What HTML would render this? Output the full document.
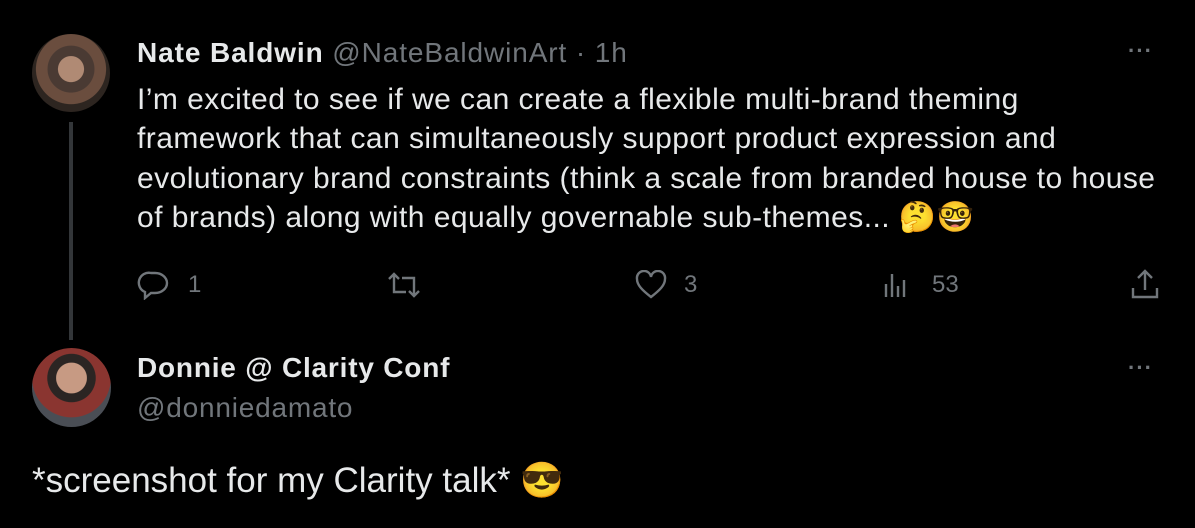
<!DOCTYPE html>
<html><head><meta charset="utf-8"><style>
body{margin:0;width:1195px;height:528px;background:#000;overflow:hidden;font-family:"Liberation Sans",sans-serif;color:#e7e9ea;position:relative}
.a{position:absolute;white-space:nowrap}
.av{position:absolute;border-radius:50%}
.g{color:#71767b}
.dots{position:absolute;color:#71767b;font-size:22px;letter-spacing:1px;font-weight:bold}
.body{font-size:30px;line-height:39.3px;letter-spacing:0.45px}
svg{position:absolute}
</style></head><body>
<div class="av" style="left:32px;top:34px;width:78px;height:78px;background:radial-gradient(circle at 50% 45%,#b08a74 0 22%,#4a3a33 23% 40%,#6a4d3e 41% 60%,#2d2520 61%)"></div>
<div class="a" style="left:69px;top:122px;width:4px;height:218px;background:#333639"></div>
<div class="a" style="left:137px;top:37px;font-size:28px;letter-spacing:0.9px"><b style="color:#e7e9ea">Nate Baldwin</b> <span class="g">@NateBaldwinArt · 1h</span></div>
<div class="dots" style="left:1128px;top:38px">···</div>
<div class="a body" style="left:137px;top:80px">I’m excited to see if we can create a flexible multi-brand theming<br>framework that can simultaneously support product expression and<br>evolutionary brand constraints (think a scale from branded house to house<br>of brands) along with equally governable sub-themes... 🤔🤓</div>
<svg style="left:137px;top:270px" width="34" height="30" viewBox="0 0 34 30"><path d="M14 3h4a12 10 0 0 1 0 20h-4l-6 5v-6a10 10 0 0 1 6-19z" fill="none" stroke="#71767b" stroke-width="2.4"/></svg>
<div class="a g" style="left:188px;top:271px;font-size:24px">1</div>
<svg style="left:385px;top:271px" width="38" height="28" viewBox="0 0 38 28"><path d="M4 8l5-5 5 5M9 3v18h12M34 20l-5 5-5-5M29 25V7H17" fill="none" stroke="#71767b" stroke-width="2.4"/></svg>
<svg style="left:634px;top:270px" width="34" height="30" viewBox="0 0 34 30"><path d="M17 27C8 20 3 15 3 9a7 7 0 0 1 14-2 7 7 0 0 1 14 2c0 6-5 11-14 18z" fill="none" stroke="#71767b" stroke-width="2.4"/></svg>
<div class="a g" style="left:684px;top:271px;font-size:24px">3</div>
<svg style="left:883px;top:272px" width="30" height="26" viewBox="0 0 30 26"><path d="M3 25V12M9 25V2M15 25V14M21 25V8" stroke="#71767b" stroke-width="2.4"/></svg>
<div class="a g" style="left:932px;top:271px;font-size:24px">53</div>
<svg style="left:1129px;top:268px" width="32" height="32" viewBox="0 0 32 32"><path d="M16 3v19M9 10l7-7 7 7M4 20v9h24v-9" fill="none" stroke="#71767b" stroke-width="2.4"/></svg>
<div class="av" style="left:32px;top:348px;width:79px;height:79px;background:radial-gradient(circle at 50% 38%,#c79a83 0 24%,#2b2523 25% 38%,#8a3530 39% 62%,#4a4e55 63%)"></div>
<div class="a" style="left:137px;top:352px;font-size:28px;font-weight:bold;letter-spacing:0.8px">Donnie @ Clarity Conf</div>
<div class="a g" style="left:137px;top:392px;font-size:28px;letter-spacing:0.8px">@donniedamato</div>
<div class="dots" style="left:1128px;top:355px">···</div>
<div class="a" style="left:32px;top:460px;font-size:35px">*screenshot for my Clarity talk* 😎</div>
</body></html>
